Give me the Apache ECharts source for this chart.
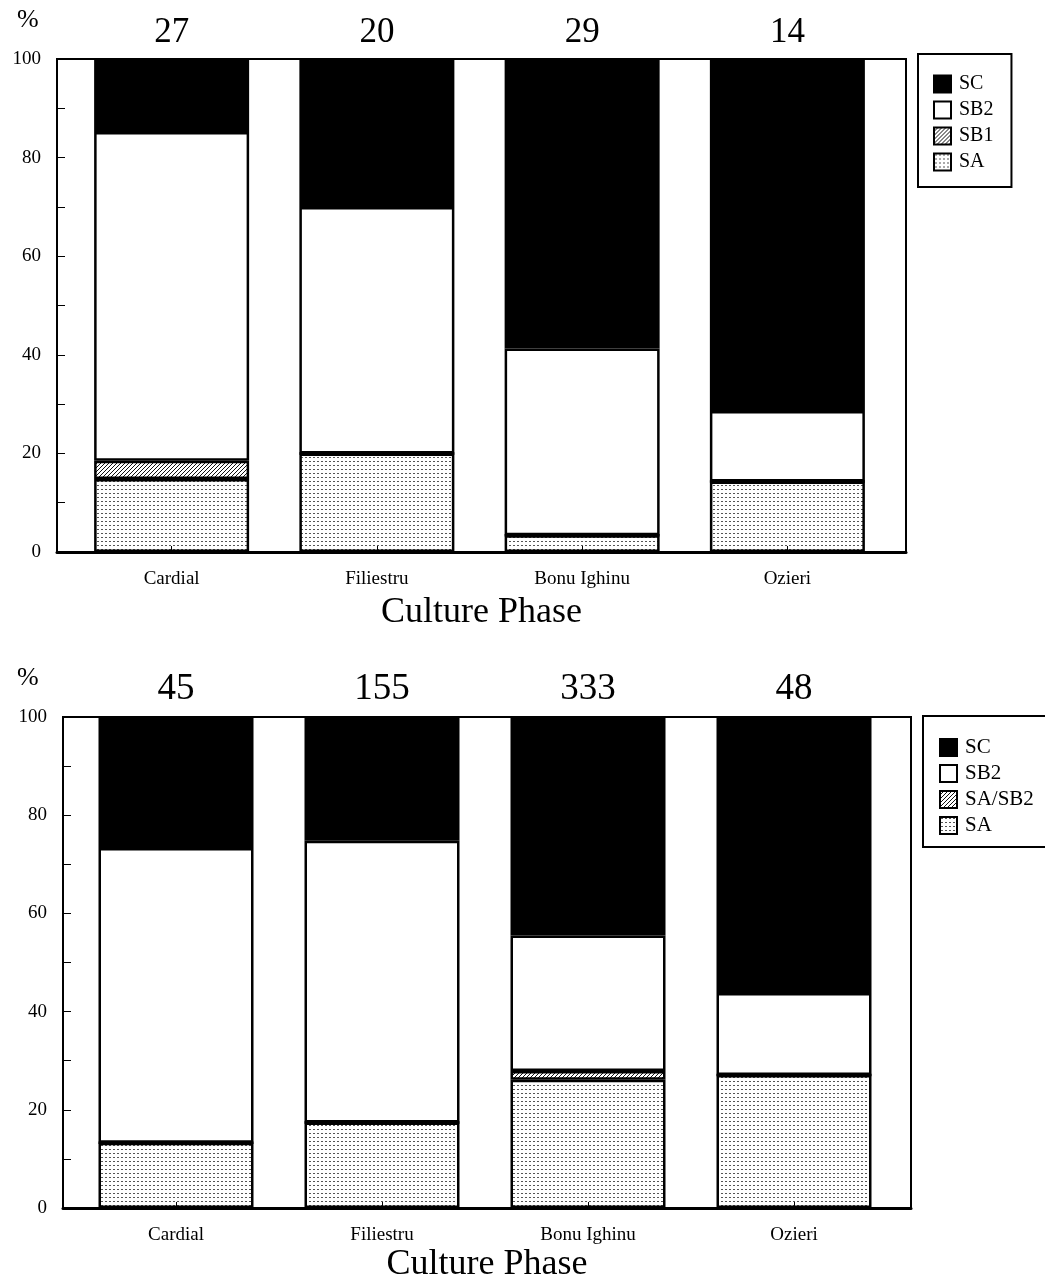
<!DOCTYPE html>
<html><head><meta charset="utf-8">
<script src="https://cdn.jsdelivr.net/npm/echarts@6/dist/echarts.min.js"></script>
<style>html,body{margin:0;padding:0;background:#fff}#c{width:1045px;height:1287px}</style>
</head><body><div id="c"></div><script>
const categories = ['Cardial', 'Filiestru', 'Bonu Ighinu', 'Ozieri'];
const yTickLabels = [0, 20, 40, 60, 80, 100];
// upper panel (percent of sample, n on top)
const topN   = [27, 20, 29, 14];
const topSA  = [14.8, 20.0, 3.4, 14.3];
const topSB1 = [3.7, 0, 0, 0];
const topSB2 = [66.7, 50.0, 37.9, 14.3];
const topSC  = [14.8, 30.0, 58.7, 71.4];
// lower panel
const botN     = [45, 155, 333, 48];
const botSA    = [13.3, 17.4, 26.1, 27.1];
const botSASB2 = [0, 0, 1.8, 0];
const botSB2   = [60.0, 57.4, 27.6, 16.7];
const botSC    = [26.7, 25.2, 44.5, 56.2];

const FONT = 'Liberation Serif';

function tile(w, h, draw) {
  const c = document.createElement('canvas');
  c.width = w; c.height = h;
  const g = c.getContext('2d');
  g.fillStyle = '#fff'; g.fillRect(0, 0, w, h);
  draw(g);
  return { image: c, repeat: 'repeat' };
}
const dotPattern = () => tile(4, 4, g => { g.fillStyle = '#555'; g.fillRect(1, 1, 2, 1); });
const hatchPattern = () => tile(4, 4, g => {
  g.fillStyle = '#111';
  for (let i = 0; i < 4; i++) { g.fillRect(3 - i, i, 1, 1); }
});

const chart = echarts.init(document.getElementById('c'), null, { renderer: 'canvas' });

function frameX(gridIndex, gap) {
  return {
    type: 'value', gridIndex, min: 0, max: 1,
    splitLine: { show: false }, axisTick: { show: false }, axisLabel: { show: false },
    axisLine: { show: true, onZero: false, lineStyle: { color: '#000', width: 3 } },
    name: 'Culture Phase', nameLocation: 'middle', nameGap: gap,
    nameTextStyle: { color: '#000', fontFamily: FONT, fontSize: 36 }
  };
}
function frameY(gridIndex) {
  return {
    type: 'value', gridIndex, min: 0, max: 100, interval: 20,
    splitLine: { show: false },
    axisLine: { show: true, onZero: false, lineStyle: { color: '#000', width: 2 } },
    axisTick: { show: true, inside: true, length: 8, lineStyle: { color: '#000', width: 1 } },
    minorTick: { show: true, splitNumber: 2, length: 8, lineStyle: { color: '#000', width: 1 } },
    axisLabel: { color: '#000', fontFamily: FONT, fontSize: 19, margin: 16,
      formatter: v => (yTickLabels.indexOf(v) >= 0 ? String(v) : '') }
  };
}
function barX(gridIndex) {
  return {
    type: 'category', gridIndex, data: categories, z: 10,
    axisLine: { show: false },
    axisTick: { show: true, inside: true, alignWithLabel: true, length: 6, lineStyle: { color: '#000', width: 1 } },
    axisLabel: { color: '#000', fontFamily: FONT, fontSize: 19, margin: 18 }
  };
}
function barY(gridIndex) {
  return { type: 'value', gridIndex, min: 0, max: 100, show: false, splitLine: { show: false } };
}
function barSeries(name, data, color, idx, stack, nArr, labelDist, labelSize) {
  const s = {
    type: 'bar', name, stack, xAxisIndex: idx, yAxisIndex: idx,
    barWidth: 155, data: data,
    itemStyle: { color, borderColor: '#000', borderWidth: 2.5 },
    emphasis: { disabled: true }, animation: false
  };
  if (nArr) {
    s.label = { show: true, position: 'top', distance: labelDist, color: '#000', fontFamily: FONT, fontSize: labelSize,
      formatter: p => String(nArr[p.dataIndex]) };
  }
  return s;
}
function legendDef(names, left, top, fs, pad, gap) {
  return {
    data: names.map(n => ({ name: n, icon: 'rect' })), orient: 'vertical', left, top,
    itemWidth: 17, itemHeight: 17, itemGap: gap,
    borderColor: '#000', borderWidth: 2, padding: pad,
    textStyle: { color: '#000', fontFamily: FONT, fontSize: fs, lineHeight: 17, padding: [0, 0, 0, 3] },
    selectedMode: false
  };
}

const option = {
  backgroundColor: '#fff',
  animation: false,
  grid: [
    { left: 57, top: 59, width: 849, height: 493, show: true, borderColor: '#000', borderWidth: 2, backgroundColor: 'transparent' },
    { left: 69, top: 59, width: 821, height: 493 },
    { left: 63, top: 717, width: 848, height: 491, show: true, borderColor: '#000', borderWidth: 2, backgroundColor: 'transparent' },
    { left: 73, top: 717, width: 824, height: 491 }
  ],
  xAxis: [frameX(0, 43), barX(1), frameX(2, 39), barX(3)],
  yAxis: [frameY(0), barY(1), frameY(2), barY(3)],
  legend: [
    legendDef(['SC', 'SB2', 'SB1', 'SA'], 918, 54, 20, [20, 18, 15, 15], 6),
    legendDef(['SC', 'SB2', 'SA/SB2', 'SA'], 923, 716, 21, [21, 16, 11, 16], 5)
  ],
  graphic: [
    { type: 'text', left: 17, top: 7, style: { text: '%', fontFamily: FONT, fontSize: 26, fill: '#000' } },
    { type: 'text', left: 17, top: 665, style: { text: '%', fontFamily: FONT, fontSize: 26, fill: '#000' } }
  ],
  series: [
    barSeries('SA', topSA, dotPattern(), 1, 't'),
    barSeries('SB1', topSB1, hatchPattern(), 1, 't'),
    barSeries('SB2', topSB2, '#fff', 1, 't'),
    barSeries('SC', topSC, '#000', 1, 't', topN, 9, 35),
    barSeries('SA', botSA, dotPattern(), 3, 'b'),
    barSeries('SA/SB2', botSASB2, hatchPattern(), 3, 'b'),
    barSeries('SB2', botSB2, '#fff', 3, 'b'),
    barSeries('SC', botSC, '#000', 3, 'b', botN, 9, 37)
  ]
};
chart.setOption(option);
</script></body></html>
